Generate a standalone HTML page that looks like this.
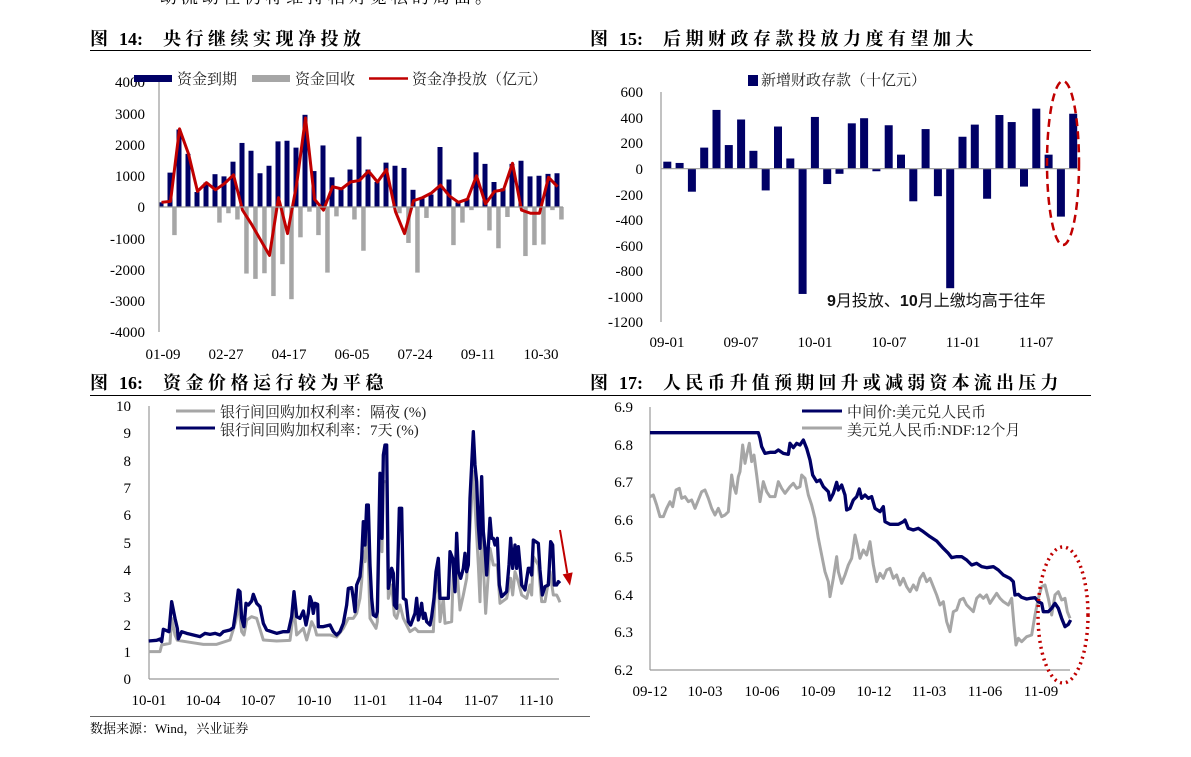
<!DOCTYPE html>
<html><head><meta charset="utf-8"><style>
html,body{margin:0;padding:0;background:#fff;}
svg{display:block;font-family:"Liberation Serif","Noto Serif CJK SC",serif;}
</style></head><body>
<svg id="s" width="1191" height="757" viewBox="0 0 1191 757" xmlns="http://www.w3.org/2000/svg">
<rect width="1191" height="757" fill="#fff"/>
<text x="160" y="3" font-size="17" fill="#000" letter-spacing="4">动流动性仍将维持相对宽松的局面。</text>
<!-- Titles -->
<g font-size="18" font-weight="bold" fill="#000">
<text x="90" y="45">图</text><text x="119" y="45">14:</text><text x="163" y="45" letter-spacing="4.5">央行继续实现净投放</text>
<text x="590" y="45">图</text><text x="619" y="45">15:</text><text x="663" y="45" letter-spacing="4.5">后期财政存款投放力度有望加大</text>
<text x="90" y="389">图</text><text x="119" y="389">16:</text><text x="163" y="389" letter-spacing="4.5">资金价格运行较为平稳</text>
<text x="590" y="389">图</text><text x="619" y="389">17:</text><text x="663" y="389" letter-spacing="4.2">人民币升值预期回升或减弱资本流出压力</text>
</g>
<g stroke="#000" stroke-width="1">
<line x1="90" y1="50.5" x2="590" y2="50.5"/>
<line x1="590" y1="50.5" x2="1091" y2="50.5"/>
<line x1="90" y1="395.5" x2="590" y2="395.5"/>
<line x1="590" y1="395.5" x2="1091" y2="395.5"/>
</g>
<line x1="90" y1="716.5" x2="590" y2="716.5" stroke="#666" stroke-width="1"/>
<text x="90" y="733" font-size="13">数据来源：Wind，兴业证券</text>

<!-- Chart 14 -->
<g id="c14"></g>
<g stroke="#999" stroke-width="1.2" fill="none">
<line x1="159" y1="82" x2="159" y2="332"/>
<line x1="159" y1="207" x2="563" y2="207"/>
</g>
<g font-size="15" text-anchor="end">
<text x="145" y="87">4000</text><text x="145" y="119">3000</text><text x="145" y="150">2000</text>
<text x="145" y="181">1000</text><text x="145" y="212">0</text><text x="145" y="244">-1000</text>
<text x="145" y="275">-2000</text><text x="145" y="306">-3000</text><text x="145" y="337">-4000</text>
</g>
<g font-size="15" text-anchor="middle">
<text x="163" y="359">01-09</text><text x="226" y="359">02-27</text><text x="289" y="359">04-17</text>
<text x="352" y="359">06-05</text><text x="415" y="359">07-24</text><text x="478" y="359">09-11</text><text x="541" y="359">10-30</text>
</g>
<rect x="134" y="75" width="38" height="7" fill="#000066"/>
<text x="177" y="84" font-size="15" fill="#222">资金到期</text>
<rect x="252" y="75" width="38" height="7" fill="#a6a6a6"/>
<text x="295" y="84" font-size="15" fill="#222">资金回收</text>
<line x1="369" y1="78.5" x2="408" y2="78.5" stroke="#c00000" stroke-width="2.5"/>
<text x="412" y="84" font-size="15" fill="#222">资金净投放（亿元）</text>

<!-- Chart 15 -->
<g id="c15"></g>
<g stroke="#999" stroke-width="1.2" fill="none">
<line x1="661" y1="92" x2="661" y2="322"/>
<line x1="661" y1="168.7" x2="1080" y2="168.7"/>
</g>
<g font-size="15" text-anchor="end">
<text x="643" y="97">600</text><text x="643" y="123">400</text><text x="643" y="148">200</text>
<text x="643" y="174">0</text><text x="643" y="200">-200</text><text x="643" y="225">-400</text>
<text x="643" y="251">-600</text><text x="643" y="276">-800</text><text x="643" y="302">-1000</text><text x="643" y="327">-1200</text>
</g>
<g font-size="15" text-anchor="middle">
<text x="667" y="347">09-01</text><text x="741" y="347">09-07</text><text x="815" y="347">10-01</text>
<text x="889" y="347">10-07</text><text x="963" y="347">11-01</text><text x="1036" y="347">11-07</text>
</g>
<rect x="748" y="75" width="10" height="11" fill="#000066"/>
<text x="761" y="85" font-size="15" fill="#222">新增财政存款（十亿元）</text>
<text x="827" y="306" font-size="16" fill="#111" font-family="Liberation Sans,Noto Sans CJK SC,sans-serif"><tspan font-weight="bold">9</tspan>月投放、<tspan font-weight="bold">10</tspan>月上缴均高于往年</text>
<ellipse cx="1063" cy="163" rx="16" ry="82" fill="none" stroke="#c00000" stroke-width="2.5" stroke-dasharray="8,5"/>

<!-- Chart 16 -->
<g stroke="#999" stroke-width="1.2" fill="none">
<line x1="149" y1="406" x2="149" y2="679"/>
<line x1="149" y1="679" x2="559" y2="679"/>
</g>
<g font-size="15" text-anchor="end">
<text x="131" y="411">10</text><text x="131" y="438">9</text><text x="131" y="466">8</text><text x="131" y="493">7</text>
<text x="131" y="520">6</text><text x="131" y="548">5</text><text x="131" y="575">4</text><text x="131" y="602">3</text>
<text x="131" y="630">2</text><text x="131" y="657">1</text><text x="131" y="684">0</text>
</g>
<g font-size="15" text-anchor="middle">
<text x="149" y="705">10-01</text><text x="203" y="705">10-04</text><text x="258" y="705">10-07</text><text x="314" y="705">10-10</text>
<text x="370" y="705">11-01</text><text x="425" y="705">11-04</text><text x="481" y="705">11-07</text><text x="536" y="705">11-10</text>
</g>
<g transform="translate(90,365) scale(0.33333)" fill="none" stroke-linejoin="round">
<polyline stroke="#a6a6a6" stroke-width="9" points="176,860 210,860 215,840 240,835 245,760 255,810 262,826 300,832 340,838 380,838 420,825 437,770 445,715 455,800 462,810 470,765 485,755 500,760 520,825 560,828 600,826 612,730 620,810 640,790 650,825 665,770 675,790 680,810 720,810 740,816 760,790 775,760 790,760 800,745 810,700 815,650 820,560 825,590 830,490 835,590 840,760 858,790 862,770 870,420 876,560 880,350 890,350 895,700 905,660 913,750 920,760 930,720 940,760 960,800 975,790 985,800 1000,800 1030,800 1035,690 1045,640 1050,770 1060,700 1065,775 1085,770 1090,620 1100,600 1110,735 1120,690 1130,640 1140,490 1145,400 1150,320 1155,420 1165,600 1170,710 1175,480 1180,600 1187,745 1190,700 1200,550 1210,600 1222,600 1230,715 1250,700 1262,640 1268,690 1275,620 1285,650 1295,690 1310,700 1320,660 1325,690 1330,575 1345,600 1355,710 1365,710 1380,620 1390,690 1400,690 1405,700 1410,712"/>
<polyline stroke="#000066" stroke-width="10" points="176,828 200,826 210,822 215,830 220,793 230,797 237,800 245,710 255,760 262,790 265,822 275,800 290,805 310,810 330,815 345,805 360,808 375,805 390,810 400,800 420,795 430,788 437,740 445,675 450,680 455,760 462,785 468,715 475,720 485,708 490,688 500,715 510,725 520,775 530,795 545,800 560,805 580,800 595,800 605,755 612,680 620,755 630,760 640,738 648,780 655,745 660,695 665,710 670,745 675,715 683,718 685,785 700,785 720,780 730,800 740,810 750,800 760,775 770,720 775,670 785,668 790,700 795,740 800,660 810,635 815,580 820,470 825,540 830,420 835,420 840,600 845,700 850,750 858,755 862,740 870,325 873,360 876,520 880,270 885,240 890,240 895,670 900,640 905,610 910,625 913,720 920,730 928,430 935,430 940,700 948,705 955,770 962,780 975,745 980,700 985,765 990,745 995,715 1000,760 1005,745 1010,770 1020,780 1025,755 1032,700 1038,620 1045,580 1050,700 1060,700 1075,700 1080,560 1088,580 1095,680 1100,505 1105,620 1112,640 1120,610 1125,565 1130,620 1135,600 1140,400 1145,300 1150,200 1155,300 1160,350 1165,480 1170,550 1175,335 1180,500 1185,550 1190,630 1200,460 1205,520 1210,520 1215,540 1222,520 1228,660 1235,695 1250,680 1257,600 1262,520 1268,610 1275,540 1280,610 1285,545 1290,600 1295,660 1305,675 1315,610 1320,610 1325,630 1330,525 1345,535 1350,615 1357,690 1365,665 1375,660 1382,530 1388,540 1393,660 1400,660 1405,650 1410,655"/>
<line x1="1410" y1="495" x2="1432" y2="625" stroke="#c00000" stroke-width="6"/>
<polygon points="1418,628 1448,622 1440,662" fill="#c00000"/>
</g>
<line x1="176" y1="411" x2="215" y2="411" stroke="#a6a6a6" stroke-width="3"/>
<text x="220" y="417" font-size="15" fill="#222">银行间回购加权利率：隔夜 (%)</text>
<line x1="176" y1="428" x2="215" y2="428" stroke="#000066" stroke-width="3"/>
<text x="220" y="435" font-size="15" fill="#222">银行间回购加权利率：7天 (%)</text>

<!-- Chart 17 -->
<g stroke="#999" stroke-width="1.2" fill="none">
<line x1="650" y1="407" x2="650" y2="670"/>
<line x1="650" y1="670" x2="1070" y2="670"/>
</g>
<g font-size="15" text-anchor="end">
<text x="633" y="412">6.9</text><text x="633" y="450">6.8</text><text x="633" y="487">6.7</text><text x="633" y="525">6.6</text>
<text x="633" y="562">6.5</text><text x="633" y="600">6.4</text><text x="633" y="637">6.3</text><text x="633" y="675">6.2</text>
</g>
<g font-size="15" text-anchor="middle">
<text x="650" y="696">09-12</text><text x="705" y="696">10-03</text><text x="762" y="696">10-06</text><text x="818" y="696">10-09</text>
<text x="874" y="696">10-12</text><text x="929" y="696">11-03</text><text x="985" y="696">11-06</text><text x="1041" y="696">11-09</text>
</g>
<g transform="translate(590,365) scale(0.33333)" fill="none" stroke-linejoin="round">
<polyline stroke="#a6a6a6" stroke-width="9" points="180,395 190,390 200,420 210,455 220,455 230,430 240,410 248,425 258,375 268,370 275,400 285,395 295,410 305,405 315,430 325,405 335,380 345,375 355,400 365,430 375,450 385,430 395,455 405,450 415,440 425,330 430,360 438,385 445,335 450,320 458,240 465,295 470,270 478,235 485,290 492,270 500,330 510,410 520,350 530,380 540,395 555,395 565,350 575,370 585,385 600,365 610,355 620,370 630,365 635,330 645,340 655,390 665,420 675,460 685,520 695,570 705,620 715,650 720,695 730,640 740,575 745,620 755,655 765,630 775,600 785,580 795,510 802,540 810,580 820,555 830,570 840,530 850,600 860,650 870,625 880,640 890,615 900,610 910,640 920,630 930,660 940,640 950,665 960,680 970,660 980,675 990,640 1000,625 1010,650 1020,640 1030,665 1040,690 1050,720 1060,710 1070,770 1080,800 1090,740 1100,735 1110,705 1120,700 1130,720 1140,730 1150,740 1160,700 1170,690 1180,700 1190,690 1200,715 1210,700 1220,685 1230,700 1240,710 1255,720 1265,700 1272,780 1278,840 1285,820 1295,830 1310,815 1325,810 1335,750 1345,700 1355,665 1365,660 1375,700 1385,750 1395,690 1405,680 1415,705 1425,700 1432,740 1440,760"/>
<polyline stroke="#000066" stroke-width="10" points="180,203 505,203 510,220 515,245 525,265 540,262 555,262 565,255 580,265 595,268 600,235 610,248 620,235 630,240 640,225 650,250 660,285 668,330 680,350 690,345 700,365 715,380 720,405 730,385 740,352 745,375 755,360 765,390 770,435 780,430 790,405 800,395 808,372 815,400 825,390 835,400 845,395 855,430 870,440 880,425 885,470 900,478 925,478 940,470 945,465 955,490 970,495 985,490 1000,500 1020,515 1040,528 1060,550 1075,565 1085,578 1100,575 1115,575 1130,585 1145,600 1160,595 1175,605 1190,608 1210,605 1225,615 1240,630 1260,640 1270,650 1275,690 1285,688 1295,697 1310,702 1320,700 1335,698 1345,710 1355,715 1360,740 1375,740 1385,730 1395,715 1405,730 1415,760 1425,785 1435,778 1442,765"/>
</g>
<ellipse cx="1063" cy="615" rx="25" ry="68" fill="none" stroke="#c00000" stroke-width="3.5" stroke-dasharray="2,4"/>
<line x1="802" y1="411" x2="842" y2="411" stroke="#000066" stroke-width="3"/>
<text x="847" y="417" font-size="15" fill="#222">中间价:美元兑人民币</text>
<line x1="802" y1="428" x2="842" y2="428" stroke="#a6a6a6" stroke-width="3"/>
<text x="847" y="435" font-size="15" fill="#222">美元兑人民币:NDF:12个月</text>
</svg>
<script>
(function(){
var NS="http://www.w3.org/2000/svg";
function el(p,t,a){var e=document.createElementNS(NS,t);for(var k in a)e.setAttribute(k,a[k]);p.appendChild(e);return e;}
var g=document.getElementById("c14");
var dk=[150,1100,2480,1700,480,780,1050,980,1450,2050,1800,1080,1320,2100,2120,1900,2950,1150,1970,950,600,1200,2250,1200,800,1420,1320,1250,550,300,400,1920,880,150,250,1750,1380,800,600,1380,1480,980,1000,1060,1080];
var gr=[0,-900,0,0,0,0,-500,-200,-400,-2130,-2300,-2120,-2850,-1830,-2950,-970,-150,-900,-2100,-300,0,-400,-1400,0,0,0,-200,-1150,-2100,-350,0,0,-1220,-500,-100,0,-750,-1320,-320,0,-1570,-1220,-1200,-100,-400];
var rd=[150,180,2500,1700,500,780,550,750,1030,-100,-550,-1050,-1550,300,-850,700,2850,250,-100,650,580,800,850,1150,800,1200,-150,-850,200,300,450,700,350,150,250,1000,100,500,550,1400,-100,-200,-200,950,650];
var pts=[];
for(var i=0;i<45;i++){var x=161+9*i;
 var h=dk[i]*0.03125; el(g,"rect",{x:x-2.5,y:207-h,width:5,height:h,fill:"#000066"});
 if(gr[i]<0){var h2=-gr[i]*0.03125; el(g,"rect",{x:x+2.2,y:207,width:4.5,height:h2,fill:"#a6a6a6"});}
 pts.push((x+0.5)+","+(207-rd[i]*0.03125));}
el(g,"polyline",{points:pts.join(" "),fill:"none",stroke:"#c00000","stroke-width":3,"stroke-linejoin":"round"});
var g2=document.getElementById("c15");
var v=[55,45,-180,165,460,185,385,140,-170,330,80,-980,405,-120,-40,355,395,-20,340,110,-255,310,-215,-935,250,345,-235,420,365,-140,470,110,-375,430];
for(var j=0;j<v.length;j++){var cx=667.3+12.3*j;var y0=168.7,y1=168.7-v[j]*0.1278;
 el(g2,"rect",{x:cx-4,y:Math.min(y0,y1),width:8,height:Math.abs(y1-y0),fill:"#000066"});}
})();
</script>
</body></html>
